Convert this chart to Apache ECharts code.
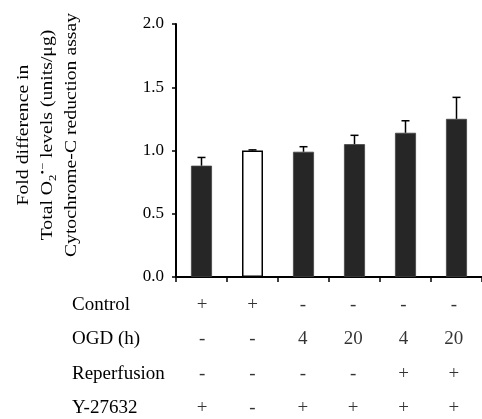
<!DOCTYPE html>
<html>
<head>
<meta charset="utf-8">
<script src="https://cdn.jsdelivr.net/npm/echarts@6/dist/echarts.min.js"></script>
<style>
  html, body { margin: 0; padding: 0; background: #fff; }
  #chart { width: 482px; height: 419px; }
</style>
</head>
<body>
<div id="chart"></div>
<script>
// Treatment groups (one bar each)
const groups = ['G1', 'G2', 'G3', 'G4', 'G5', 'G6'];
// Mean fold difference and upper error (SEM)
const meanValues = [0.88, 1.00, 0.99, 1.05, 1.14, 1.25];
const errValues = [0.065, 0.005, 0.04, 0.07, 0.095, 0.17];
// Bar fill: white for the reference group
const barFills = ['#262626', '#ffffff', '#262626', '#262626', '#262626', '#262626'];
// Y axis ticks
const yTicks = [0, 0.5, 1.0, 1.5, 2.0];

// Treatment table shown under the bars
const rowNames = ['Control', 'OGD (h)', 'Reperfusion', 'Y-27632'];
const controlRow = ['+', '+', '-', '-', '-', '-'];
const ogdRow = ['-', '-', '4', '20', '4', '20'];
const reperfusionRow = ['-', '-', '-', '-', '+', '+'];
const y27632Row = ['+', '-', '+', '+', '+', '+'];
const tableRows = [controlRow, ogdRow, reperfusionRow, y27632Row];

const serif = '"Liberation Serif", "Times New Roman", serif';

const tableData = [];
tableRows.forEach((row, r) => {
  row.forEach((txt, c) => tableData.push([c, r, txt]));
});

const chart = echarts.init(document.getElementById('chart'));
chart.setOption({
  animation: false,
  backgroundColor: '#fff',
  grid: [
    { left: 176, right: -7, top: 24, bottom: 142 },
    { left: 177, width: 302, top: 305, height: 103 }
  ],
  xAxis: [
    {
      gridIndex: 0,
      type: 'category',
      data: groups,
      boundaryGap: true,
      axisLine: { lineStyle: { color: '#000', width: 2 } },
      axisTick: { show: true, length: 5, lineStyle: { color: '#000', width: 1.5 } },
      axisLabel: { show: false }
    },
    {
      gridIndex: 1,
      type: 'category',
      data: groups,
      boundaryGap: true,
      axisLine: { show: false },
      axisTick: { show: false },
      axisLabel: { show: false }
    }
  ],
  yAxis: [
    {
      gridIndex: 0,
      type: 'value',
      min: 0,
      max: 2,
      interval: 0.5,
      splitLine: { show: false },
      axisLine: { show: true, lineStyle: { color: '#000', width: 2 } },
      axisTick: { show: true, length: 4, lineStyle: { color: '#000', width: 1.5 } },
      axisLabel: {
        margin: 12,
        color: '#000',
        fontFamily: serif,
        fontSize: 17,
        formatter: v => yTicks.includes(v) ? v.toFixed(1) : ''
      }
    },
    {
      gridIndex: 1,
      type: 'category',
      data: rowNames,
      inverse: true,
      boundaryGap: false,
      axisLine: { show: false },
      axisTick: { show: false },
      splitLine: { show: false },
      axisLabel: {
        margin: 105,
        align: 'left',
        color: '#000',
        fontFamily: serif,
        fontSize: 19
      }
    }
  ],
  graphic: [
    {
      type: 'group',
      x: 48,
      y: 135,
      rotation: Math.PI / 2,
      scaleX: 1.16,
      children: [
        {
          type: 'text',
          x: 0, y: -24,
          style: {
            text: 'Fold difference in',
            fill: '#000', font: '17px ' + serif,
            textAlign: 'center', textVerticalAlign: 'middle'
          }
        },
        {
          type: 'text',
          x: 0, y: 0,
          style: {
            text: 'Total O{sub|2}{sup|•\u2212} levels (units/μg)',
            fill: '#000', font: '17px ' + serif,
            textAlign: 'center', textVerticalAlign: 'middle',
            rich: {
              sub: { fontSize: 11, fontFamily: serif, fill: '#000', padding: [10, 0, 0, 0] },
              sup: { fontSize: 11, fontFamily: serif, fill: '#000', padding: [0, 0, 10, 0] }
            }
          }
        },
        {
          type: 'text',
          x: 0, y: 24,
          style: {
            text: 'Cytochrome-C reduction assay',
            fill: '#000', font: '17px ' + serif,
            textAlign: 'center', textVerticalAlign: 'middle'
          }
        }
      ]
    }
  ],
  series: [
    {
      type: 'bar',
      xAxisIndex: 0,
      yAxisIndex: 0,
      barWidth: 21,
      data: meanValues.map((v, i) => ({
        value: v,
        itemStyle: {
          color: barFills[i],
          borderColor: barFills[i] === '#ffffff' ? '#000' : '#444',
          borderWidth: barFills[i] === '#ffffff' ? 1.5 : 0.8
        }
      })),
      z: 2
    },
    {
      type: 'custom',
      xAxisIndex: 0,
      yAxisIndex: 0,
      data: meanValues.map((v, i) => [i, v, v + errValues[i]]),
      z: 3,
      renderItem: function (params, api) {
        const base = api.coord([api.value(0), api.value(1)]);
        const top = api.coord([api.value(0), api.value(2)]);
        const half = 4;
        const st = { stroke: '#000', lineWidth: 1.5 };
        return {
          type: 'group',
          children: [
            { type: 'line', shape: { x1: base[0], y1: base[1], x2: top[0], y2: top[1] }, style: st },
            { type: 'line', shape: { x1: top[0] - half, y1: top[1], x2: top[0] + half, y2: top[1] }, style: st }
          ]
        };
      }
    },
    {
      type: 'scatter',
      xAxisIndex: 1,
      yAxisIndex: 1,
      symbolSize: 0,
      data: tableData,
      label: {
        show: true,
        position: 'inside',
        color: '#000',
        fontFamily: serif,
        fontSize: 19,
        formatter: p => p.value[2]
      }
    }
  ]
});
</script>
</body>
</html>
